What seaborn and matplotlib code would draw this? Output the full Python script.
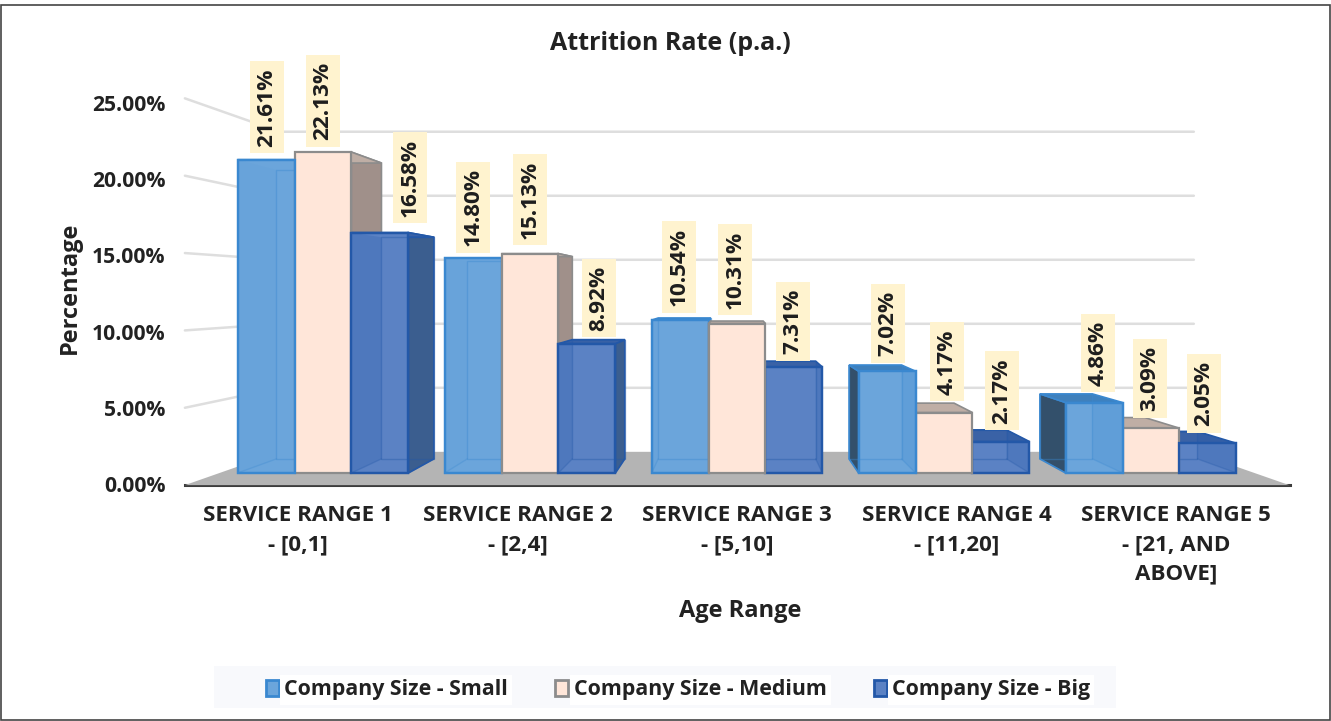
import matplotlib
matplotlib.use("Agg")
import matplotlib.pyplot as plt
import pandas as pd
import seaborn as sns
from matplotlib.patches import Polygon, Patch, Rectangle

# ---- data ----
categories = ["SERVICE RANGE 1\n- [0,1]", "SERVICE RANGE 2\n- [2,4]", "SERVICE RANGE 3\n- [5,10]",
              "SERVICE RANGE 4\n- [11,20]", "SERVICE RANGE 5\n- [21, AND\nABOVE]"]
series_names = ["Company Size - Small", "Company Size - Medium", "Company Size - Big"]
small = [21.61, 14.80, 10.54, 7.02, 4.86]
medium = [22.13, 15.13, 10.31, 4.17, 3.09]
big = [16.58, 8.92, 7.31, 2.17, 2.05]
y_ticks = [0, 5, 10, 15, 20, 25]

# ---- style ----
W, H = 1331, 721
FONT = "Open Sans"
FRONT = ["#6BA5DB", "#FFE6D9", "#5B82C4"]
EDGE = ["#3A88D0", "#8C8C8C", "#2358A8"]
SIDE = ["#33506B", "#A0908A", "#3B5E8F"]
TOP = ["#3F80BC", "#BFAEA5", "#3A62A6"]
# pixel nudges of the value labels from their bar top: (dx, dy to box bottom)
NUDGE = [[(1, 6), (0, 5), (30, 9)],
         [(0, 5), (0, 8), (12, 6)],
         [(-1, 7), (-2, 8), (-1, 6)],
         [(1, 8), (3, 11), (1, 11)],
         [(4, 10), (-1, 10), (-4, 10)]]

sns.set_theme(style="white")
plt.rcParams["font.family"] = [FONT, "DejaVu Sans"]

fig = plt.figure(figsize=(W / 100, H / 100), dpi=100, facecolor="white")

def box(left, top, right, bottom):
    return [left / W, 1 - bottom / H, (right - left) / W, (bottom - top) / H]

# outer frame
fig.add_artist(Rectangle((0.5 / W, 1.5 / H), (W - 1.5) / W, (H - 6) / H, transform=fig.transFigure,
                         fill=False, ec="#444444", lw=1.2))

# axis plane that carries ticks and axis titles
wall = fig.add_axes(box(185, 92, 1290, 484.5))
wall.set_xlim(-0.515, 4.519)
wall.set_ylim(0, 392.5 / 15.28)
wall.patch.set_visible(False)
for s in ["top", "left", "right"]:
    wall.spines[s].set_visible(False)
wall.spines["bottom"].set_color("#3c3c3c")
wall.spines["bottom"].set_linewidth(2.2)
wall.spines["bottom"].set_zorder(5)
wall.set_yticks(y_ticks, [f"{v:.2f}%" for v in y_ticks], fontsize=15.2, fontweight="bold", color="#222222")
wall.set_xticks(range(5), categories, fontsize=16.1, fontweight="bold", color="#222222", linespacing=1.5)
wall.tick_params(axis="y", length=0, pad=14)
wall.tick_params(axis="x", length=0, pad=15)
wall.set_xlabel("Age Range", fontsize=17, fontweight="bold", color="#222222", va="center")
wall.xaxis.set_label_coords((740 - 185) / 1105, -(611 - 484.5) / 392.5)
wall.set_ylabel("Percentage", fontsize=17, fontweight="bold", color="#222222", va="center")
wall.yaxis.set_label_coords((70 - 185) / 1105, (484.5 - 288) / 392.5)
wall.grid(False)

# front plane with the bars
ax = fig.add_axes(box(219.5, 96, 1254.5, 473))
ax.patch.set_visible(False)
df = pd.DataFrame({"cat": categories, series_names[0]: small, series_names[1]: medium, series_names[2]: big})
long = df.melt(id_vars="cat", var_name="size", value_name="rate")
sns.barplot(data=long, x="cat", y="rate", hue="size", hue_order=series_names, order=categories,
            palette=FRONT, saturation=1, width=0.825, gap=0, legend=False, ax=ax)
ax.set_xlim(-0.5, 4.5)
ax.set_ylim(0, 26)
ax.axis("off")

# perspective: everything recedes towards one vanishing point
VX = (736 - 219.5) / 207 - 0.5
VY = (473 - 292) / 14.5
BAR_D = 0.078
WALL_D = 0.117
FRONT_D = -0.067

def proj(x, y, k):
    return (x + k * (VX - x), y + k * (VY - y))

# floor and back wall grid
ax.add_patch(Polygon([proj(-0.5, 0, FRONT_D), proj(-0.5, 0, WALL_D), proj(4.5, 0, WALL_D), proj(4.5, 0, FRONT_D)],
                     closed=True, fc="#B4B4B4", ec="none", zorder=0.5, clip_on=False))
for v in y_ticks[1:]:
    pts = [proj(-0.5, v, FRONT_D), proj(-0.5, v, WALL_D), proj(4.5, v, WALL_D)]
    ax.plot(*zip(*pts), color="#DEDEDE", lw=1.8, zorder=0.6, clip_on=False, solid_joinstyle="miter")

for s_i, cont in enumerate(ax.containers):
    for c_i, bar in enumerate(cont):
        x0, x1 = bar.get_x(), bar.get_x() + bar.get_width()
        h = bar.get_height()
        xc = (x0 + x1) / 2
        z = 3 + 1 / (1 + abs(xc - VX))
        d = BAR_D
        near, far = (x1, x0) if xc < VX else (x0, x1)
        bar.set_edgecolor(EDGE[s_i])
        bar.set_linewidth(1.6)
        bar.set_zorder(z + 0.01)
        bar.set_clip_on(False)
        # outer side face, top and (through the glass) inner wall
        side = [(near, 0), (near, h), proj(near, h, d), proj(near, 0, d)]
        ax.add_patch(Polygon(side, closed=True, fc=SIDE[s_i], ec=EDGE[s_i], lw=1.2, zorder=z, clip_on=False))
        top = [(x0, h), (x1, h), proj(x1, h, d), proj(x0, h, d)]
        ax.add_patch(Polygon(top, closed=True, fc=TOP[s_i], ec=EDGE[s_i], lw=1.2, zorder=z, clip_on=False))
        if s_i != 1:
            inner = [(far, 0), (far, h), proj(far, h, d), proj(far, 0, d)]
            shade = 0.22 if xc > VX or s_i == 2 else 0.05
            ax.add_patch(Polygon(inner, closed=True, fc=EDGE[s_i], alpha=shade, ec="none", zorder=z + 0.02, clip_on=False))
            back = [proj(x0, 0, d), proj(x1, 0, d), proj(x1, h, d), proj(x0, h, d)]
            ax.add_patch(Polygon(back, closed=True, fill=False, ec=EDGE[s_i], alpha=0.4, lw=1.0,
                                 zorder=z + 0.03, clip_on=False))
            for x in (x0, x1):
                ax.plot(*zip((x, 0), proj(x, 0, d)), color=EDGE[s_i], alpha=0.3, lw=1, zorder=z + 0.03, clip_on=False)
            ax.add_patch(Polygon([(x0, 0), (x1, 0), (x1, h), (x0, h)], closed=True, fill=False, ec=EDGE[s_i],
                                 lw=1.6, zorder=z + 0.04, clip_on=False))
        # value label
        dx, dy = NUDGE[c_i][s_i]
        ax.annotate(f"{h:.2f}%", xy=(xc, h), xytext=(dx * 0.72, (dy + 7) * 0.72), textcoords="offset points",
                    rotation=90, ha="center", va="bottom", fontsize=16.2, fontweight="bold", color="#1d1d1d",
                    zorder=8, annotation_clip=False,
                    bbox=dict(boxstyle="square,pad=0.3", fc="#FFF3CF", ec="none"))

fig.text(670 / W, 1 - 44 / H, "Attrition Rate (p.a.)", ha="center", va="center", fontsize=18,
         fontweight="bold", color="#222222")

# legend
fig.add_artist(Rectangle((214 / W, 1 - 708 / H), 902 / W, 42 / H, transform=fig.transFigure, fc="#F8F9FC", ec="none"))
handles = [Patch(fc=FRONT[i], ec=EDGE[i], lw=2) for i in range(3)]
leg = fig.legend(handles, series_names, loc="center", bbox_to_anchor=(678 / W, 1 - 690 / H), ncol=3,
                 frameon=False, handlelength=0.62, handleheight=0.72, handletextpad=0.25, columnspacing=2.2,
                 prop=dict(family=FONT, size=15.4, weight="bold"))
for t in leg.get_texts():
    t.set_color("#222222")
    t.set_bbox(dict(fc="white", ec="none", pad=3))

fig.savefig("out.png", dpi=100)
